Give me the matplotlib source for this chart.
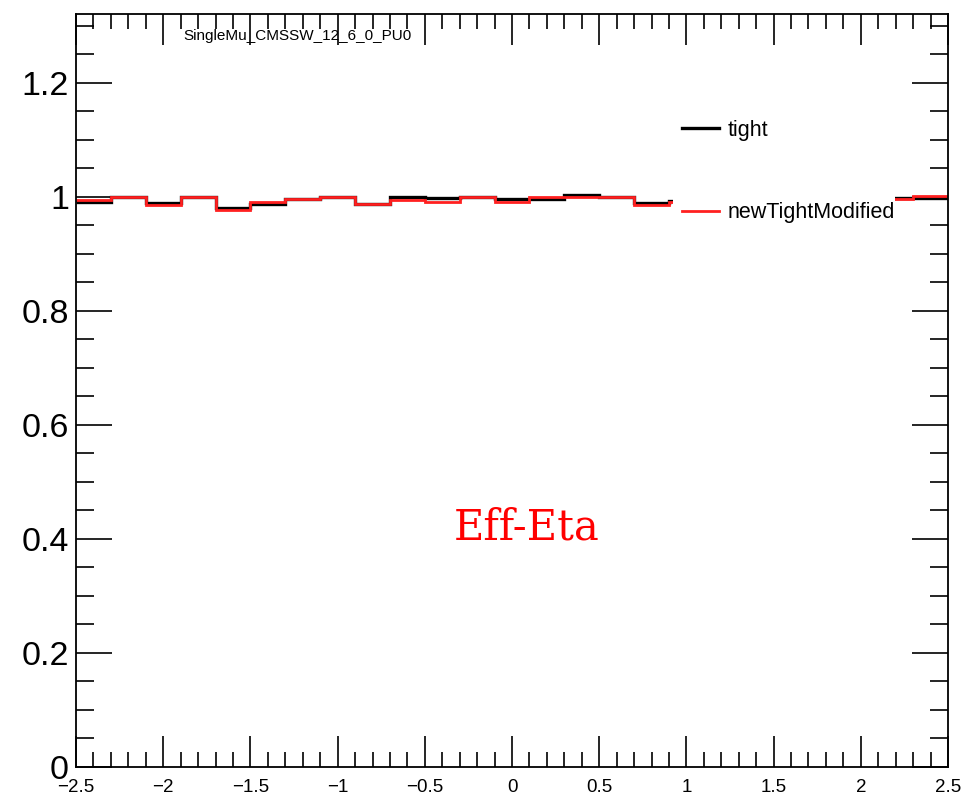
import numpy as np
import matplotlib
matplotlib.use("Agg")
import matplotlib.pyplot as plt
from matplotlib.patches import Rectangle
from matplotlib.ticker import MultipleLocator, FixedLocator

# eta bin edges (25 bins of 0.2)
edges = np.round(np.arange(-2.5, 2.5001, 0.2), 2)

eff_tight = [0.991, 1.000, 0.990, 1.000, 0.981, 0.987, 0.996, 1.000, 0.988, 1.000,
             0.998, 1.000, 0.997, 0.996, 1.003, 1.000, 0.990, 0.993, 0.995, 0.996,
             0.997, 0.998, 0.998, 0.999, 0.998]
eff_new = [0.995, 1.000, 0.9865, 1.000, 0.977, 0.992, 0.996, 1.000, 0.988, 0.995,
           0.992, 1.000, 0.992, 1.000, 1.0005, 1.000, 0.986, 0.991, 0.993, 0.995,
           0.996, 0.996, 0.997, 0.996, 1.002]

x_ticks = [-2.5, -2, -1.5, -1, -0.5, 0, 0.5, 1, 1.5, 2, 2.5]
x_ticklabels = ["\u22122.5", "\u22122", "\u22121.5", "\u22121", "\u22120.5", "0",
                "0.5", "1", "1.5", "2", "2.5"]
y_ticks = [0, 0.2, 0.4, 0.6, 0.8, 1, 1.2]
y_ticklabels = ["0", "0.2", "0.4", "0.6", "0.8", "1", "1.2"]

plt.rcParams['font.family'] = ['Liberation Sans', 'DejaVu Sans']

fig = plt.figure(figsize=(9.75, 8.07), dpi=100)
ax = fig.add_axes([0.078, 0.0496, 0.8943, 0.9331])

ax.stairs(eff_tight, edges, baseline=None, color="black", lw=2.4, label="tight", zorder=2)
ax.stairs(eff_new, edges, baseline=None, color="#ff2020", lw=2.0,
          label="newTightModified", zorder=2.1)

ax.set_xlim(-2.5, 2.5)
ax.set_ylim(0, 1.321)

# ROOT style ticks: inside, on all four sides
ax.xaxis.set_major_locator(FixedLocator(x_ticks))
ax.xaxis.set_minor_locator(MultipleLocator(0.1))
ax.yaxis.set_major_locator(FixedLocator(y_ticks))
ax.yaxis.set_minor_locator(MultipleLocator(0.05))
ax.tick_params(which="both", direction="in", top=True, right=True, width=1.2, color="black")
ax.tick_params(axis="x", which="major", length=22, pad=9)
ax.tick_params(axis="x", which="minor", length=11)
ax.tick_params(axis="y", which="major", length=26, pad=5)
ax.tick_params(axis="y", which="minor", length=13)
ax.set_xticklabels(x_ticklabels, fontsize=13.5)
ax.set_yticklabels(y_ticklabels, fontsize=24.5)
for s in ax.spines.values():
    s.set_linewidth(1.3)

# white legend box (ROOT TLegend without border)
ax.add_patch(Rectangle((0.6846, 0.713), 0.2546, 0.159, transform=ax.transAxes,
                       facecolor="white", edgecolor="none", zorder=3))
leg = ax.legend(loc="upper left", bbox_to_anchor=(0.692, 0.862), fontsize=15.5,
                frameon=False, handlelength=1.75, handletextpad=0.4,
                labelspacing=2.85, borderpad=0.1, borderaxespad=0)
leg.set_zorder(5)

ax.text(0.123, 0.971, "SingleMu_CMSSW_12_6_0_PU0", transform=ax.transAxes,
        fontsize=11, ha="left", va="center")
ax.text(0.517, 0.318, "Eff-Eta", transform=ax.transAxes, color="#ff0000",
        fontsize=30, ha="center", va="center", family="DejaVu Serif")

fig.savefig("out.png", dpi=100)
